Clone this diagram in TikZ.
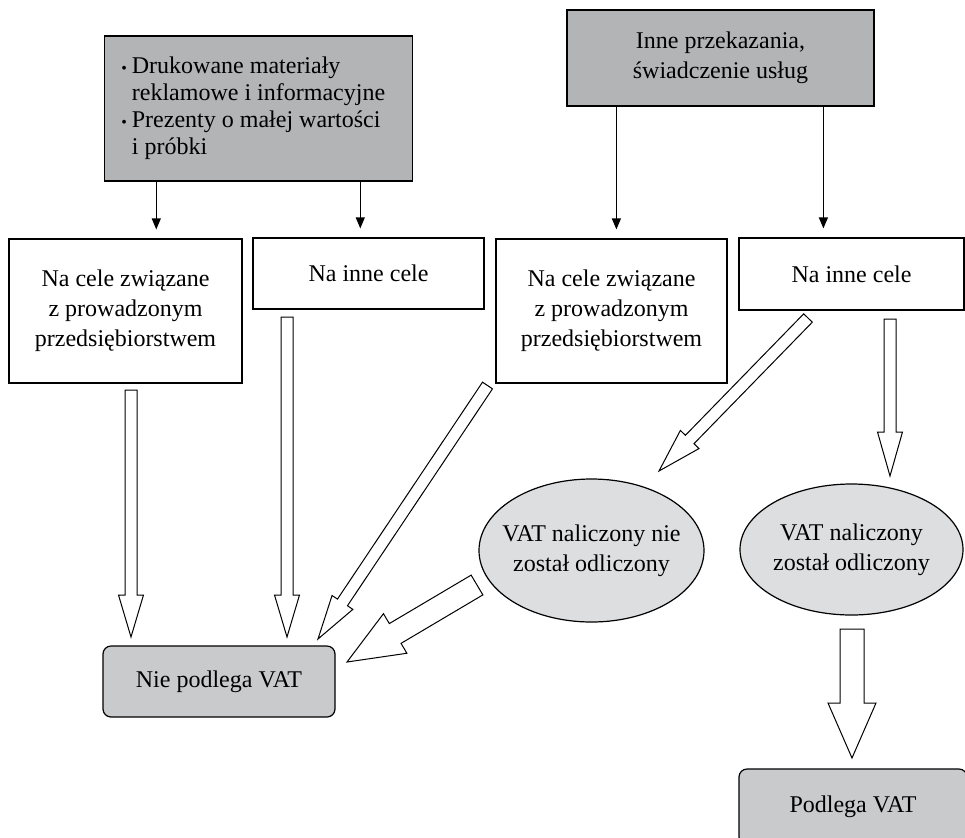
\documentclass[tikz,border=0pt]{standalone}
\usepackage{fontspec}
\setmainfont{Liberation Serif}
\usetikzlibrary{positioning, arrows.meta, shapes, calc}
\usepackage{xcolor}
\definecolor{szaryA}{RGB}{179,180,182}
\definecolor{szaryB}{RGB}{201,202,204}
\definecolor{szaryC}{RGB}{221,222,224}

% kropka wypunktowania
\newcommand{\pkt}{\llap{\fontsize{8}{8}\selectfont\textbullet\hspace{2.5pt}}}
% gruba pusta strzalka: poczatek, koniec, pol trzonu, pol grotu, dlugosc grotu
\newcommand{\fatarrow}[5]{%
  \coordinate (fb) at ($(#2)!#5!(#1)$);
  \draw[gruba] ($(#1)!#3!90:(#2)$) -- ($(fb)!#3!-90:(#1)$) -- ($(fb)!#4!-90:(#1)$)
    -- (#2) -- ($(fb)!#4!90:(#1)$) -- ($(fb)!#3!90:(#1)$) -- ($(#1)!#3!-90:(#2)$) -- cycle;}

\begin{document}
\begin{tikzpicture}[x=0.5pt, y=-0.5pt, font=\fontsize{12}{15}\selectfont]
  \tikzstyle{box} = [rectangle, draw=black, line width=0.6pt, align=center, inner sep=0pt]
  \tikzstyle{kat} = [box, fill=szaryA]
  \tikzstyle{wynik} = [box, fill=szaryB, rounded corners=4pt]
  \tikzstyle{owal} = [ellipse, draw=black, line width=0.6pt, fill=szaryC, inner sep=0pt]
  \tikzstyle{strz} = [-{Triangle[length=5.5pt, width=4.5pt]}, line width=0.6pt, shorten >=4.5pt]
  \tikzstyle{gruba} = [draw=black, line width=0.5pt, fill=white, line join=miter]

  \useasboundingbox (0,0) rectangle (965,837);
  \clip (0,0) rectangle (965,837);

  % Kategorie u gory
  \node[kat, align=left, inner xsep=13.5pt, minimum width=153.5pt, minimum height=72.5pt,
    font=\fontsize{12}{13.5}\selectfont] (A) at (258.5,108.5)
    {\pkt Drukowane materiały\\reklamowe i informacyjne\\\pkt Prezenty o małej wartości\\i próbki};
  \node[kat, minimum width=153.5pt, minimum height=48pt] (B) at (720.5,58)
    {Inne przekazania,\\świadczenie usług};

  % Cele
  \node[box, minimum width=116.5pt, minimum height=72pt] (n1) at (125.5,311)
    {Na cele związane\\z prowadzonym\\przedsiębiorstwem};
  \node[box, minimum width=115.5pt, minimum height=35.5pt] (n2) at (368.5,273.5) {Na inne cele};
  \node[box, minimum width=115.5pt, minimum height=72pt] (n3) at (611.5,311)
    {Na cele związane\\z prowadzonym\\przedsiębiorstwem};
  \node[box, minimum width=112.5pt, minimum height=36pt] (n4) at (851.5,274) {Na inne cele};

  % VAT naliczony
  \node[owal, minimum width=112.5pt, minimum height=71.5pt] (e1) at (591.5,550.5)
    {\makebox[0pt]{\begin{tabular}{@{}c@{}}VAT naliczony nie\\został odliczony\end{tabular}}};
  \node[owal, minimum width=111.5pt, minimum height=65.5pt] (e2) at (851.5,549.5)
    {\makebox[0pt]{\begin{tabular}{@{}c@{}}VAT naliczony\\został odliczony\end{tabular}}};

  % Wyniki
  \node[wynik, minimum width=116pt, minimum height=35.5pt] (nie) at (219,681.5) {Nie podlega VAT};
  \node[wynik, minimum width=114pt, minimum height=38pt] (tak) at (853,807) {Podlega VAT};

  % Cienkie strzalki
  \foreach \z/\cel/\dx in {A/n1/26pt, A/n2/128pt, B/n3/25pt, B/n4/128.5pt} {
    \coordinate (p) at ([xshift=\dx]\z.south west);
    \draw[strz] (p) -- (p |- \cel.north);
  }

  % Grube strzalki
  \coordinate (o1) at (131,390);     \coordinate (k1) at (131,637);
  \coordinate (o2) at (287,317);     \coordinate (k2) at (287,637);
  \coordinate (o3) at (487.5,385.5); \coordinate (k3) at (318,639);
  \coordinate (o4) at (808,318);     \coordinate (k4) at (659,471);
  \coordinate (o5) at (890,319);     \coordinate (k5) at (890,476);
  \coordinate (o6) at (477,585);     \coordinate (k6) at (347,662);
  \coordinate (o7) at (852,629);     \coordinate (k7) at (852,758);
  \foreach \o/\k/\s/\h/\l in {o1/k1/3pt/6.25pt/21pt, o2/k2/3pt/6.25pt/21pt,
      o3/k3/3pt/6.25pt/22pt, o4/k4/3pt/6.5pt/22pt, o5/k5/3pt/6.25pt/22pt,
      o6/k6/5.75pt/11.5pt/28pt, o7/k7/6pt/12pt/27.5pt}
    \fatarrow{\o}{\k}{\s}{\h}{\l};
\end{tikzpicture}
\end{document}
